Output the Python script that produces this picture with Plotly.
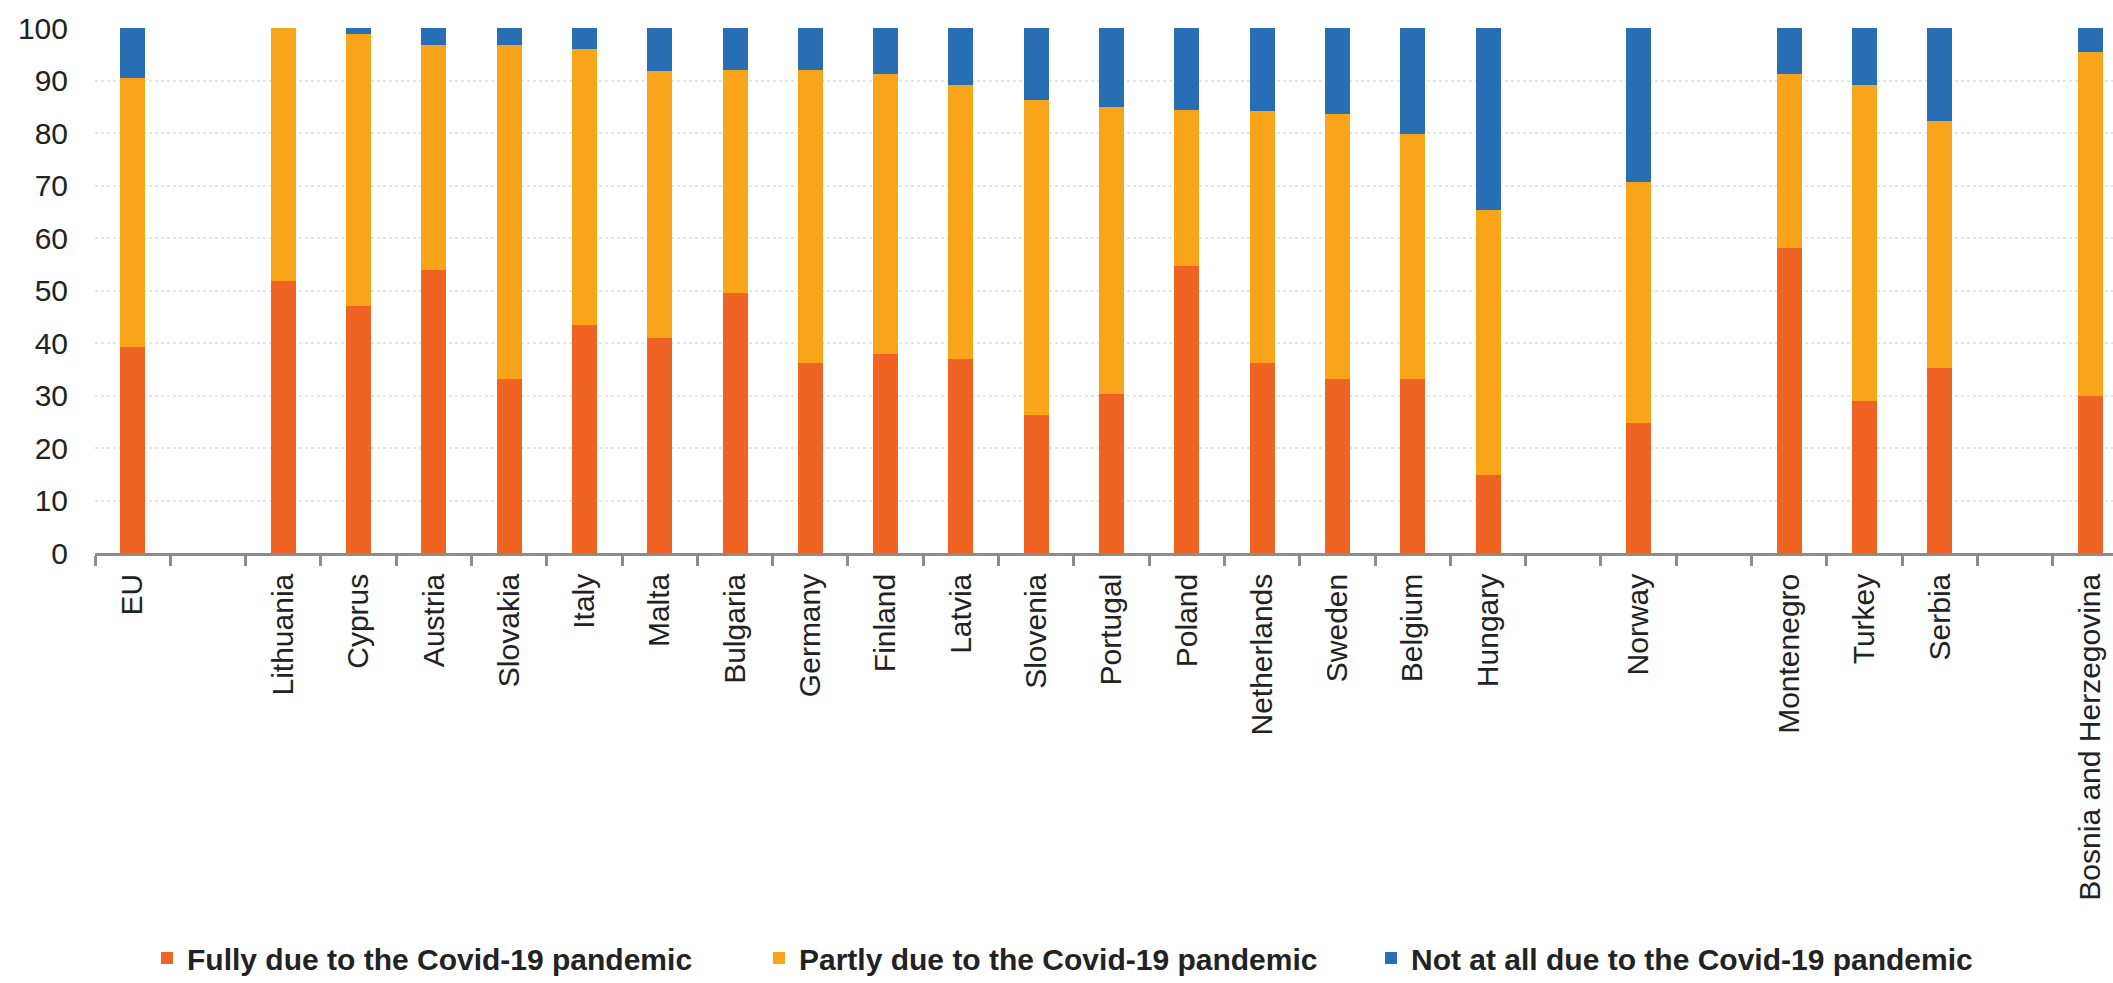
import plotly.graph_objects as go

categories = ["EU", " ", "Lithuania", "Cyprus", "Austria", "Slovakia", "Italy", "Malta",
              "Bulgaria", "Germany", "Finland", "Latvia", "Slovenia", "Portugal", "Poland",
              "Netherlands", "Sweden", "Belgium", "Hungary", "  ", "Norway", "   ",
              "Montenegro", "Turkey", "Serbia", "    ", "Bosnia and Herzegovina"]

fully = [39.2, None, 51.8, 47.0, 53.9, 33.2, 43.5, 40.9,
         49.5, 36.2, 37.9, 37.0, 26.2, 30.3, 54.7,
         36.2, 33.2, 33.1, 14.9, None, 24.7, None,
         58.1, 29.0, 35.3, None, 30.0]

partly = [51.2, None, 48.2, 51.8, 42.8, 63.5, 52.5, 51.0,
          42.5, 55.8, 53.4, 52.2, 60.0, 54.7, 29.6,
          47.9, 50.5, 46.8, 50.5, None, 45.9, None,
          33.2, 60.2, 47.0, None, 65.4]

not_at_all = [9.6, None, 0.0, 1.2, 3.3, 3.3, 4.0, 8.1,
              8.0, 8.0, 8.7, 10.8, 13.8, 15.0, 15.7,
              15.9, 16.3, 20.1, 34.6, None, 29.4, None,
              8.7, 10.8, 17.7, None, 4.6]

series_names = ["Fully due to the Covid-19 pandemic",
                "Partly due to the Covid-19 pandemic",
                "Not at all due to the Covid-19 pandemic"]
series_colors = ["#F06423", "#FAA519", "#286EB4"]
y_ticks = [0, 10, 20, 30, 40, 50, 60, 70, 80, 90, 100]

fig = go.Figure()
for name, vals, col in zip(series_names, [fully, partly, not_at_all], series_colors):
    fig.add_trace(go.Bar(x=categories, y=vals, name=name, marker_color=col,
                         marker_line_width=0))

fig.update_layout(
    width=2113, height=983,
    margin=dict(l=95, r=0, t=28, b=430, autoexpand=False),
    barmode="stack", bargap=0.668,
    plot_bgcolor="white", paper_bgcolor="white",
    font=dict(family="Liberation Sans, Arial, sans-serif", size=30, color="#222"),
    legend=dict(orientation="h", traceorder="normal", xref="container", yref="container",
                x=147 / 2113, xanchor="left", y=(983 - 958) / 983, yanchor="middle",
                font=dict(size=30, color="#222", weight="bold"),
                entrywidth=567, entrywidthmode="pixels",
                bgcolor="rgba(0,0,0,0)", borderwidth=0),
)
fig.update_xaxes(type="category", categoryorder="array", categoryarray=categories,
                 range=[-0.5, 26.30], tickangle=-90,
                 showline=True, linecolor="#8c8c8c", linewidth=2.5,
                 ticks="outside", ticklen=10, tickwidth=2.5, tickcolor="#8c8c8c",
                 tickson="boundaries", ticklabelstandoff=6,
                 showgrid=False, tickfont=dict(size=30, color="#222"))
fig.update_yaxes(range=[0, 100], tickvals=y_ticks, showgrid=True,
                 gridcolor="#e6e6e6", gridwidth=2, griddash="dot",
                 zeroline=False, showline=False, ticks="",
                 ticklabelstandoff=26, tickfont=dict(size=30, color="#222"))

fig.write_html("out.html")
